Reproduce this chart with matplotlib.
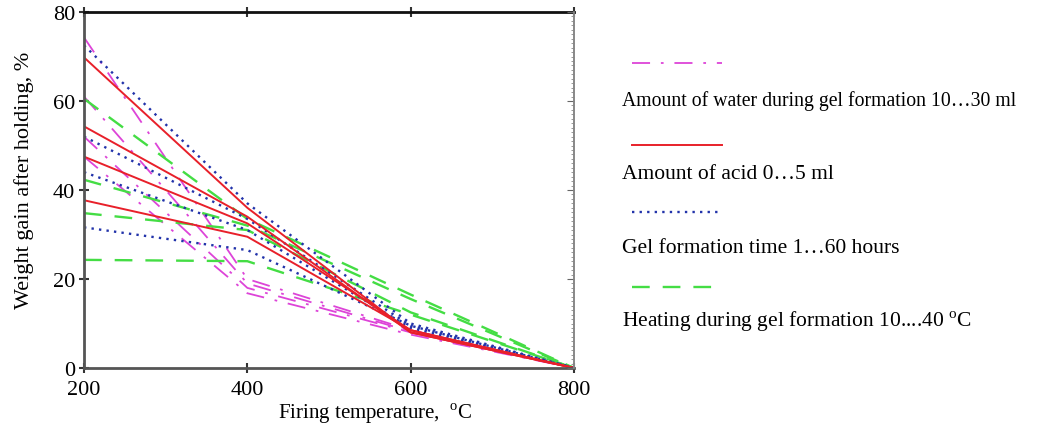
import matplotlib
matplotlib.use('Agg')
import matplotlib.pyplot as plt
from matplotlib.lines import Line2D
from matplotlib.ticker import MultipleLocator

plt.rcParams['font.family'] = ['Liberation Serif', 'DejaVu Serif']
plt.rcParams['mathtext.fontset'] = 'custom'
plt.rcParams['mathtext.rm'] = 'Liberation Serif'

# firing temperature, C
temps = [200, 400, 600, 800]

# weight gain after holding, %
water = [[74.3, 20.0, 8.5, 0],
         [61.0, 19.0, 8.2, 0],
         [52.0, 18.0, 8.0, 0],
         [47.5, 16.8, 7.5, 0]]
acid = [[69.8, 36.0, 8.0, 0],
        [54.3, 34.0, 8.0, 0],
        [47.5, 32.5, 8.5, 0],
        [37.7, 29.5, 8.5, 0]]
gel_time = [[72.5, 37.0, 10.0, 0],
            [52.0, 33.5, 9.5, 0],
            [44.0, 31.0, 9.0, 0],
            [31.6, 26.5, 9.5, 0]]
heating = [[60.5, 33.5, 16.5, 0],
           [42.3, 32.0, 15.5, 0],
           [34.8, 31.0, 12.5, 0],
           [24.3, 24.0, 12.0, 0]]

labels = ['Amount of water during gel formation 10\u202630 ml',
          'Amount of acid 0\u20265 ml',
          'Gel formation time 1\u202660 hours',
          'Heating during gel formation 10....40 $^{\\rm o}$C']
label_sizes = [14.2, 15.5, 15.5, 15.5]

c_mag = '#dd44d8'
c_red = '#e8202a'
c_blue = '#2233aa'
c_green = '#44dd44'

sty_mag = dict(color=c_mag, lw=1.3, dashes=(10, 6, 1.5, 6))
sty_red = dict(color=c_red, lw=1.4, linestyle='-')
sty_blue = dict(color=c_blue, lw=1.7, dashes=(1, 2.2))
sty_green = dict(color=c_green, lw=1.7, dashes=(7.5, 5.5))

fig = plt.figure(figsize=(10.59, 4.39), dpi=100)
ax = fig.add_axes([84/1059, 1-369/439, 490/1059, 356/439])

for s in water:
    ax.plot(temps, s, **sty_mag)
for s in heating:
    ax.plot(temps, s, **sty_green)
for s in gel_time:
    ax.plot(temps, s, **sty_blue)
for s in acid:
    ax.plot(temps, s, **sty_red)

ax.set_xlim(200, 800)
ax.set_ylim(0, 80)
ax.set_xticks([200, 400, 600, 800])
ax.set_yticks([0, 20, 40, 60, 80])
ax.tick_params(axis='both', labelsize=16, direction='inout', length=7,
               width=1.5, color='#333333', pad=3)
ax.tick_params(axis='x', pad=5)
ax.tick_params(top=True, labeltop=False)

for side in ['left', 'bottom']:
    ax.spines[side].set_color('#555555')
    ax.spines[side].set_linewidth(2)
ax.spines['top'].set_color('#111111')
ax.spines['top'].set_linewidth(2)
ax.spines['right'].set_color('#888888')
ax.spines['right'].set_linewidth(1.2)

# right axis with fine ticks
ax2 = ax.twinx()
ax2.set_ylim(0, 80)
ax2.yaxis.set_major_locator(MultipleLocator(20))
ax2.yaxis.set_minor_locator(MultipleLocator(1))
ax2.tick_params(axis='y', which='major', direction='in', length=5,
                color='#666666', labelright=False)
ax2.tick_params(axis='y', which='minor', direction='in', length=2,
                color='#888888')
for side in ['left', 'bottom', 'top']:
    ax2.spines[side].set_visible(False)
ax2.spines['right'].set_color('#888888')
ax2.spines['right'].set_linewidth(1.2)

fig.text(24/1059, 1-180/439, 'Weight gain after holding, %', rotation=90,
         ha='center', va='center', fontsize=16)
fig.text(278/1059, 1-414/439, 'Firing temperature,  $^{\\rm o}$C',
         ha='left', va='center', fontsize=15)

# legend: line sample above each text
styles = [sty_mag, sty_red, sty_blue, sty_green]
sample_y = [64, 146, 213, 288]
text_y = [101, 175, 249, 322]
for st, sy, ty, lab, fs in zip(styles, sample_y, text_y, labels, label_sizes):
    fig.add_artist(Line2D([632/1059, 722/1059], [1-sy/439, 1-sy/439],
                          transform=fig.transFigure, **st))
    fig.text(622/1059, 1-ty/439, lab, ha='left', va='center', fontsize=fs)

fig.savefig('out.png', dpi=100)
